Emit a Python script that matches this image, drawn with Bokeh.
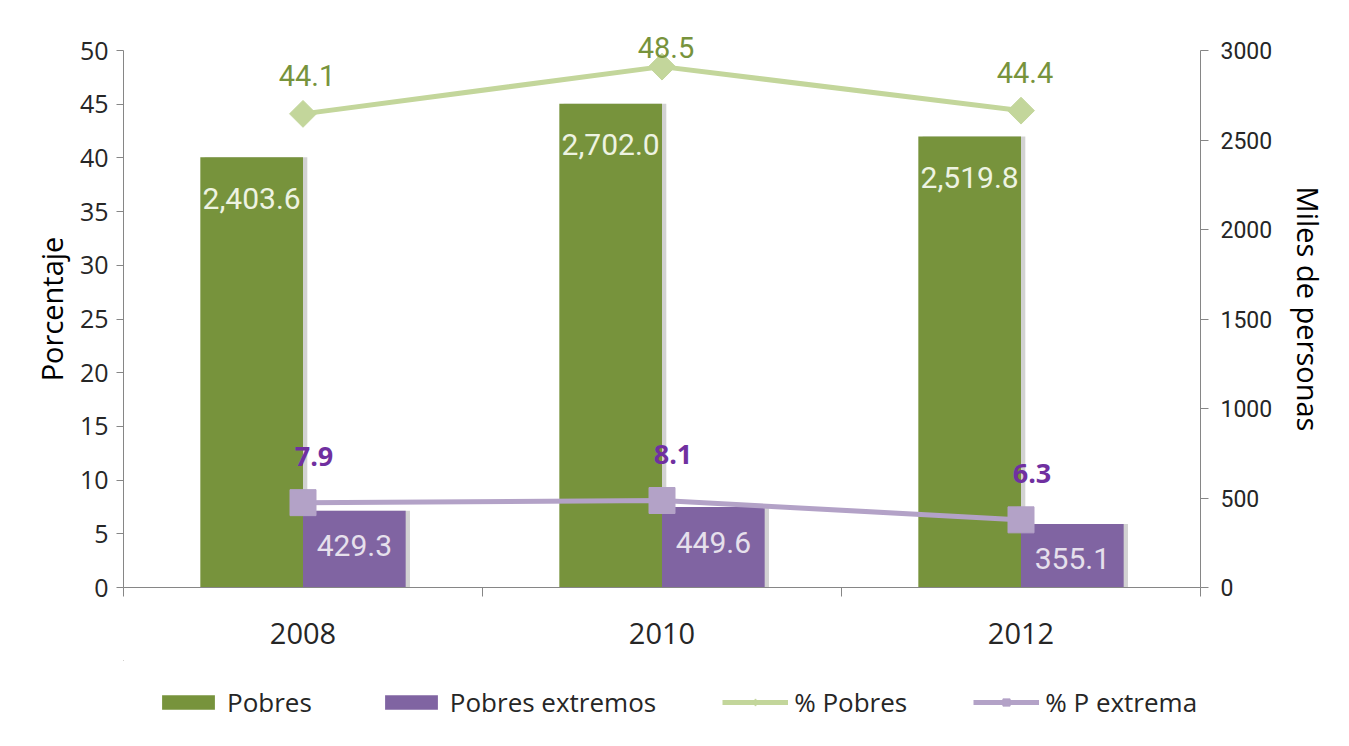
import math
from bokeh.plotting import figure
from bokeh.layouts import column
from bokeh.models import (Range1d, LinearAxis, FixedTicker, ColumnDataSource,
                          Legend, LegendItem, LabelSet, Label)
from bokeh.core.properties import value
from bokeh.transform import dodge
from bokeh.embed import file_html
from bokeh.resources import INLINE

# ---- data ----
years = ["2008", "2010", "2012"]
pobres = [2403.6, 2702.0, 2519.8]            # miles de personas
pobres_extremos = [429.3, 449.6, 355.1]      # miles de personas
pct_pobres = [44.1, 48.5, 44.4]              # porcentaje
pct_p_extrema = [7.9, 8.1, 6.3]              # porcentaje
left_ticks = [0, 5, 10, 15, 20, 25, 30, 35, 40, 45, 50]
right_ticks = [0, 500, 1000, 1500, 2000, 2500, 3000]
series_names = ["Pobres", "Pobres extremos", "% Pobres", "% P extrema"]

xc = [i + 0.5 for i in range(len(years))]
src = ColumnDataSource(dict(
    x=xc, year=years,
    pobres=pobres, pobres_lbl=[f"{v:,.1f}" for v in pobres],
    ext=pobres_extremos, ext_lbl=[f"{v:,.1f}" for v in pobres_extremos],
    pp=pct_pobres, pe=pct_p_extrema, pe_lbl=[f"{v:.1f}" for v in pct_p_extrema],
))

GREEN = "#77933C"
PURPLE = "#8064A2"
LGREEN = "#C3D69B"
LPURPLE = "#B3A2C7"
AXIS = "#868686"
TXT = "#262626"

# layout (pixels)
W = 1349
BL, BR = 123, 149
Y50 = 50          # screen y of the top tick (50 % / 3000)
Y0 = 587          # screen y of the baseline
BT = 30           # top of plot frame (room for labels above the top tick)
H1 = 660
L_MAX, R_MAX = 50, 3000
scale_top = (Y0 - BT) / (Y0 - Y50)

p = figure(width=W, height=H1, output_backend="svg", toolbar_location=None,
           x_range=Range1d(0, 3), y_range=Range1d(0, L_MAX * scale_top),
           min_border_left=BL, min_border_right=BR, min_border_top=BT,
           min_border_bottom=H1 - Y0)
p.extra_y_ranges = {"miles": Range1d(0, R_MAX * scale_top)}
p.outline_line_color = None
p.xgrid.visible = False
p.ygrid.visible = False
p.background_fill_color = "white"
p.border_fill_color = "white"

# x axis
xa = p.xaxis[0]
xa.ticker = FixedTicker(ticks=xc, minor_ticks=[0, 1, 2, 3])
xa.major_label_overrides = {x: y for x, y in zip(xc, years)}
xa.major_tick_line_color = None
xa.major_tick_out = 0
xa.minor_tick_out = 9
xa.minor_tick_in = 0
xa.minor_tick_line_color = AXIS
xa.axis_line_color = AXIS
xa.major_label_text_font = "Open Sans"
xa.major_label_text_font_size = "29px"
xa.major_label_text_color = TXT
xa.major_label_standoff = 26

# left y axis
ya = p.yaxis[0]
ya.ticker = FixedTicker(ticks=left_ticks)
ya.bounds = (0, L_MAX)
ya.axis_label = "Porcentaje"
ya.axis_label_text_font = "Open Sans"
ya.axis_label_text_font_size = "29px"
ya.axis_label_text_font_style = "normal"
ya.axis_label_text_color = "black"
ya.axis_label_standoff = 6
ya.major_label_text_font = "Open Sans"
ya.major_label_text_font_size = "25px"
ya.major_label_text_color = TXT
ya.major_tick_out = 7
ya.major_tick_in = 0
ya.minor_tick_line_color = None
ya.major_tick_line_color = AXIS
ya.axis_line_color = AXIS
ya.major_label_standoff = 8

# right y axis
ra = LinearAxis(y_range_name="miles", ticker=FixedTicker(ticks=right_ticks),
                axis_label="Miles de personas", bounds=(0, R_MAX))
ra.axis_label_text_font = "Open Sans"
ra.axis_label_text_font_size = "29px"
ra.axis_label_text_font_style = "normal"
ra.axis_label_text_color = "black"
ra.axis_label_standoff = 14
ra.major_label_text_font = "Roboto"
ra.major_label_text_font_size = "23px"
ra.major_label_text_color = TXT
ra.major_tick_out = 8
ra.major_tick_in = 0
ra.minor_tick_line_color = None
ra.major_tick_line_color = AXIS
ra.axis_line_color = AXIS
ra.major_label_standoff = 12
p.add_layout(ra, "right")

# bars (right axis) with a soft drop shadow
bw = 0.286
sh = 0.012
p.vbar(x=dodge("x", -bw / 2 + sh, range=p.x_range), top="pobres", width=bw,
       source=src, y_range_name="miles", fill_color="#7f7f7f", fill_alpha=0.35,
       line_color=None)
p.vbar(x=dodge("x", bw / 2 + sh, range=p.x_range), top="ext", width=bw,
       source=src, y_range_name="miles", fill_color="#7f7f7f", fill_alpha=0.35,
       line_color=None)
p.vbar(x=dodge("x", -bw / 2, range=p.x_range), top="pobres", width=bw,
       source=src, y_range_name="miles", fill_color=GREEN, line_color=None)
p.vbar(x=dodge("x", bw / 2, range=p.x_range), top="ext", width=bw,
       source=src, y_range_name="miles", fill_color=PURPLE, line_color=None)

p.add_layout(LabelSet(x=dodge("x", -bw / 2, range=p.x_range), y="pobres",
                      text="pobres_lbl", source=src, y_range_name="miles",
                      text_align="center", text_baseline="middle", y_offset=-41,
                      text_font=value("Roboto"), text_font_size=value("30px"),
                      text_color=value("#EEF3E2")))
p.add_layout(LabelSet(x=dodge("x", bw / 2, range=p.x_range), y="ext",
                      text="ext_lbl", source=src, y_range_name="miles",
                      text_align="center", text_baseline="middle", y_offset=-35,
                      text_font=value("Roboto"), text_font_size=value("30px"),
                      text_color=value("#E6E0EC")))

# lines (left axis)
p.line(x="x", y="pp", source=src, line_color=LGREEN, line_width=5)
p.scatter(x="x", y="pp", source=src, marker="square", angle=math.pi / 4,
          size=19, fill_color=LGREEN, line_color=LGREEN)
p.line(x="x", y="pe", source=src, line_color=LPURPLE, line_width=5)
p.scatter(x="x", y="pe", source=src, marker="square", size=26,
          fill_color=LPURPLE, line_color=LPURPLE)

# green % labels above the markers (kept close to the top tick)
for xv, v in zip(xc, pct_pobres):
    marker_y = Y0 - v / L_MAX * (Y0 - Y50)
    label_y = max(marker_y - 38, Y50 - 3)
    p.add_layout(Label(x=xv, y=v, text=f"{v:.1f}", text_align="center",
                       text_baseline="middle", y_offset=marker_y - label_y,
                       x_offset=4, text_font="Roboto", text_font_size="29px",
                       text_color=GREEN))

p.add_layout(LabelSet(x="x", y="pe", text="pe_lbl", source=src,
                      text_align="center", text_baseline="middle",
                      y_offset=46, x_offset=11, text_font=value("Open Sans"),
                      text_font_style=value("bold"), text_font_size=value("27px"),
                      text_color=value("#7030A0")))

# ---- legend strip (its frame is aligned with the chart frame) ----
H2 = 746 - H1
lg = figure(width=W, height=H2, output_backend="svg", toolbar_location=None,
            x_range=Range1d(100, 101), y_range=Range1d(-20000, -19999),
            x_axis_location=None, y_axis_location=None,
            min_border_left=BL, min_border_right=BR, min_border_top=0,
            min_border_bottom=0)
lg.outline_line_color = None
lg.xgrid.visible = False
lg.ygrid.visible = False
lg.border_fill_color = "white"
lg.background_fill_color = "white"
# same series drawn far outside the strip's view, used only as legend entries
e1 = lg.vbar(x="x", top="pobres", width=0.2, source=src, fill_color=GREEN,
             line_color=None)
e2 = lg.vbar(x="x", top="ext", width=0.2, source=src, fill_color=PURPLE,
             line_color=None)
e3l = lg.line(x="x", y="pp", source=src, line_color=LGREEN, line_width=5)
e3m = lg.scatter(x="x", y="pp", source=src, marker="diamond", size=22,
                 fill_color=LGREEN, line_color=LGREEN)
e4l = lg.line(x="x", y="pe", source=src, line_color=LPURPLE, line_width=5)
e4m = lg.scatter(x="x", y="pe", source=src, marker="square", size=18,
                 fill_color=LPURPLE, line_color=LPURPLE)
legend = Legend(items=[
    LegendItem(label=series_names[0], renderers=[e1]),
    LegendItem(label=series_names[1], renderers=[e2]),
    LegendItem(label=series_names[2], renderers=[e3l, e3m]),
    LegendItem(label=series_names[3], renderers=[e4l, e4m]),
], orientation="horizontal", location=(155 - BL, 26))
legend.label_text_font = "Open Sans"
legend.label_text_font_size = "26px"
legend.label_text_color = TXT
legend.glyph_width = 66
legend.glyph_height = 18
legend.label_standoff = 6
legend.spacing = 66
legend.border_line_color = None
legend.background_fill_alpha = 0
legend.margin = 0
legend.padding = 0
lg.add_layout(legend, "center")

open("out.html", "w").write(file_html(column(p, lg, spacing=0), INLINE))
